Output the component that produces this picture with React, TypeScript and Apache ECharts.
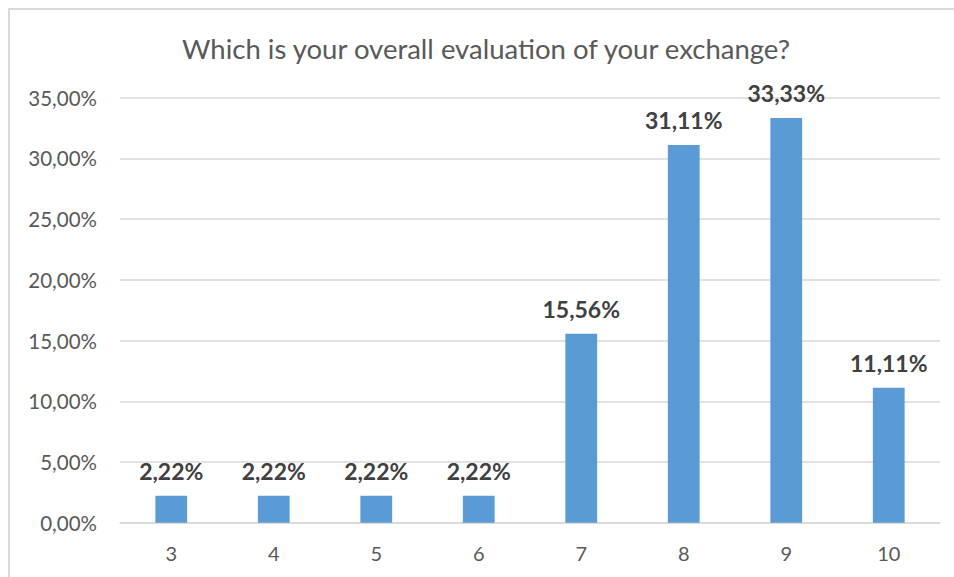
import React, { useEffect, useRef } from "react";
import * as echarts from "echarts";

const titleText = "Which is your overall evaluation of your exchange?";
const categories = ["3", "4", "5", "6", "7", "8", "9", "10"];
const values = [2.22, 2.22, 2.22, 2.22, 15.56, 31.11, 33.33, 11.11];
const yMax = 35;
const yInterval = 5;

const fmt = (v: number) => v.toFixed(2).replace(".", ",") + "%";

export default function App() {
  const ref = useRef<HTMLDivElement>(null);
  useEffect(() => {
    if (!ref.current) return;
    const chart = echarts.init(ref.current, undefined, { renderer: "svg" });
    chart.setOption({
      animation: false,
      backgroundColor: "#ffffff",
      textStyle: { fontFamily: "Lato" },
      title: {
        text: titleText,
        left: 481,
        top: 29,
        textAlign: "center",
        textStyle: { fontFamily: "Lato", fontSize: 27.5, fontWeight: "normal", color: "#595959" },
      },
      graphic: [
        {
          type: "rect",
          shape: { x: 9, y: 9, width: 1000, height: 1000 },
          style: { fill: "none", stroke: "#d9d9d9", lineWidth: 2 },
          silent: true,
        },
      ],
      grid: { left: 120, right: 14, top: 97.7, bottom: 54.3, containLabel: false },
      xAxis: {
        type: "category",
        data: categories,
        axisLine: { show: true, lineStyle: { color: "#d9d9d9", width: 1.5 } },
        axisTick: { show: false },
        axisLabel: { color: "#595959", fontSize: 20, margin: 20, fontFamily: "Lato" },
      },
      yAxis: {
        type: "value",
        min: 0,
        max: yMax,
        interval: yInterval,
        axisLine: { show: false },
        axisTick: { show: false },
        splitLine: { lineStyle: { color: "#d9d9d9", width: 1.5 } },
        axisLabel: {
          color: "#595959",
          fontSize: 20.5,
          margin: 23,
          fontFamily: "Lato",
          formatter: (v: number) => fmt(v),
        },
      },
      series: [
        {
          type: "bar",
          data: values,
          barWidth: "31%",
          itemStyle: { color: "#5b9bd5" },
          label: {
            show: true,
            position: "top",
            distance: 13,
            color: "#404040",
            fontSize: 23,
            fontWeight: "bold",
            fontFamily: "Lato",
            formatter: (p: any) => fmt(p.value),
          },
        },
      ],
    });
    return () => chart.dispose();
  }, []);
  return (
    <div
      ref={ref}
      style={{ position: "fixed", left: 0, top: 0, width: 954, height: 577 }}
    />
  );
}
